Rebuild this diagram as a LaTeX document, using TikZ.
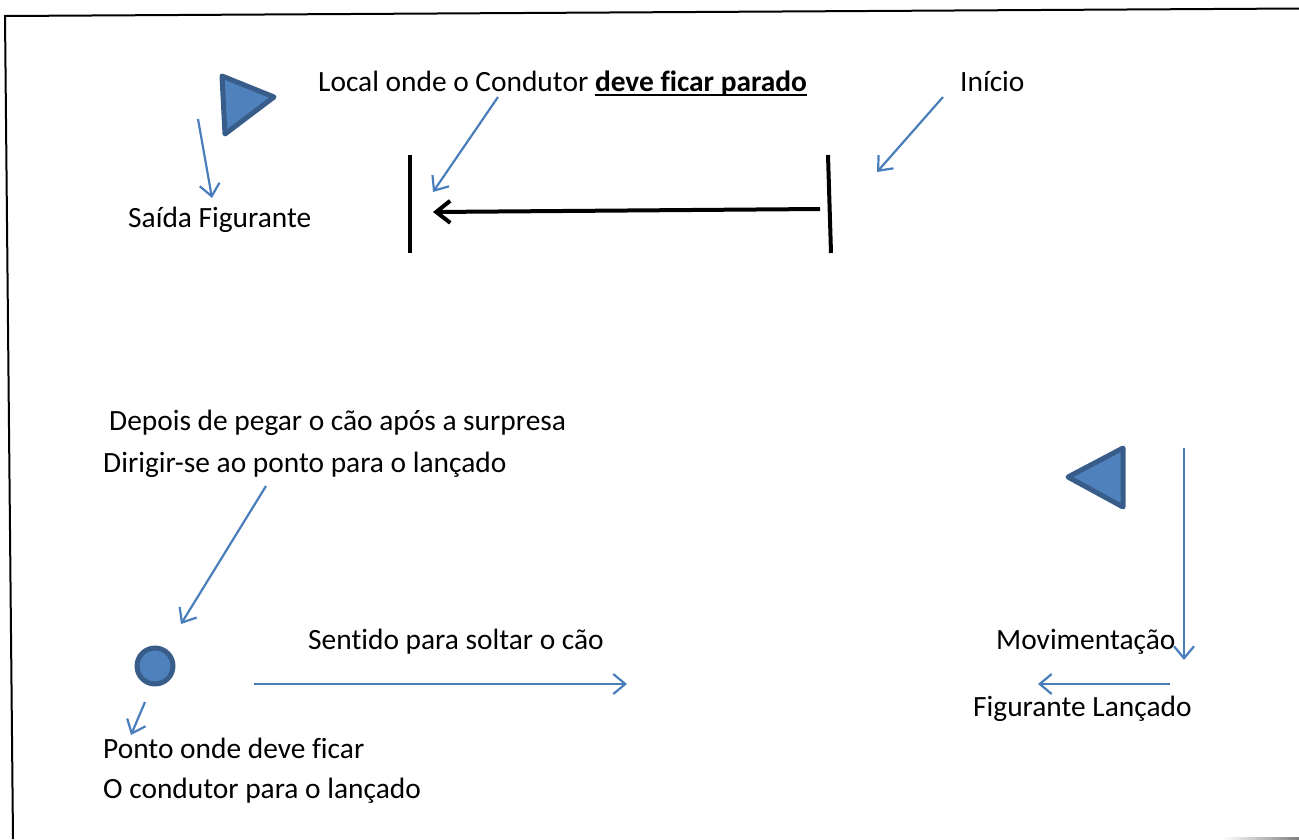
\documentclass[tikz,border=0pt]{standalone}
\usepackage{fontspec}
\setmainfont[Ligatures=NoCommon]{Carlito}
\usetikzlibrary{arrows.meta}
\definecolor{figblue}{HTML}{4F81BD}
\definecolor{figedge}{HTML}{385D8A}
\definecolor{lineblue}{HTML}{4A7EBB}
\newsavebox\ulbox
\newcommand\ulbold[1]{\sbox\ulbox{\textbf{#1}}\usebox\ulbox\llap{\rule[-5pt]{\wd\ulbox}{2pt}}}
\tikzset{
  txt/.style={anchor=base west, inner sep=0pt, font=\fontsize{29.4}{40}\selectfont},
  pointer/.style={lineblue, line width=2.2pt, -{Straight Barb[length=12pt,width=20pt]}},
  marker/.style={fill=figblue, draw=figedge, line width=5pt, line join=round},
  bar/.style={line width=4pt}
}
\begin{document}
\begin{tikzpicture}[x=1pt,y=-1pt]
  \useasboundingbox (0,0) rectangle (1299,839);
  \draw[line width=2pt] (13,839) -- (5,16) -- (1299,8.5);
  \shade[left color=white, right color=gray] (1222,837.5) rectangle (1299,839);

  \draw[marker] (222,76) -- (274,97) -- (225,134) -- cycle;
  \draw[marker] (1068,477) -- (1123,448) -- (1123,507) -- cycle;
  \draw[marker] (155,666) circle [radius=18];

  \node[txt] (saida) at (128,227) {Saída Figurante};
  \node[txt] (local) at (318,91) {Local onde o Condutor \ulbold{deve ficar parado}};
  \node[txt] (inicio) at (960,91) {Início};
  \node[txt] (depois) at (109,430) {Depois de pegar o cão após a surpresa};
  \node[txt] (dirigir) at (103,472) {Dirigir-se ao ponto para o lançado};
  \node[txt] (sentido) at (308,649) {Sentido para soltar o cão};
  \node[txt] (movim) at (996,649) {Movimentação};
  \node[txt] (lancado) at (973,716) {Figurante Lançado};
  \node[txt] (ponto) at (103,758) {Ponto onde deve ficar};
  \node[txt] (condutor) at (103,798) {O condutor para o lançado};

  \coordinate (paradoTop) at (410,155);
  \coordinate (paradoBot) at (410,253);
  \coordinate (inicioTop) at (828,155);
  \coordinate (inicioBot) at (831,253);
  \draw[bar] (paradoTop) -- (paradoBot);
  \draw[bar] (inicioTop) -- (inicioBot);
  \coordinate (runFrom) at (820,209);
  \coordinate (runTo) at (433,212);
  \draw[bar, -{Straight Barb[length=14pt,width=22pt]}] (runFrom) -- (runTo);

  \coordinate (saidaFrom) at (198,119);
  \coordinate (saidaTo) at (212,198);
  \draw[pointer] (saidaFrom) -- (saidaTo);
  \coordinate (localFrom) at (498,97);
  \coordinate (localTo) at (433,192);
  \draw[pointer] (localFrom) -- (localTo);
  \coordinate (inicioFrom) at (943,97);
  \coordinate (inicioTo) at (877,172);
  \draw[pointer] (inicioFrom) -- (inicioTo);
  \coordinate (dirigirFrom) at (266,486);
  \coordinate (dirigirTo) at (181,624);
  \draw[pointer] (dirigirFrom) -- (dirigirTo);
  \coordinate (pontoFrom) at (145,702);
  \coordinate (pontoTo) at (131,735);
  \draw[pointer] (pontoFrom) -- (pontoTo);
  \coordinate (soltarFrom) at (254,684);
  \coordinate (soltarTo) at (627,684);
  \draw[pointer] (soltarFrom) -- (soltarTo);
  \coordinate (movFrom) at (1184,448);
  \coordinate (movTo) at (1184,660);
  \draw[pointer] (movFrom) -- (movTo);
  \coordinate (lancFrom) at (1170,684);
  \coordinate (lancTo) at (1038,684);
  \draw[pointer] (lancFrom) -- (lancTo);
\end{tikzpicture}
\end{document}
